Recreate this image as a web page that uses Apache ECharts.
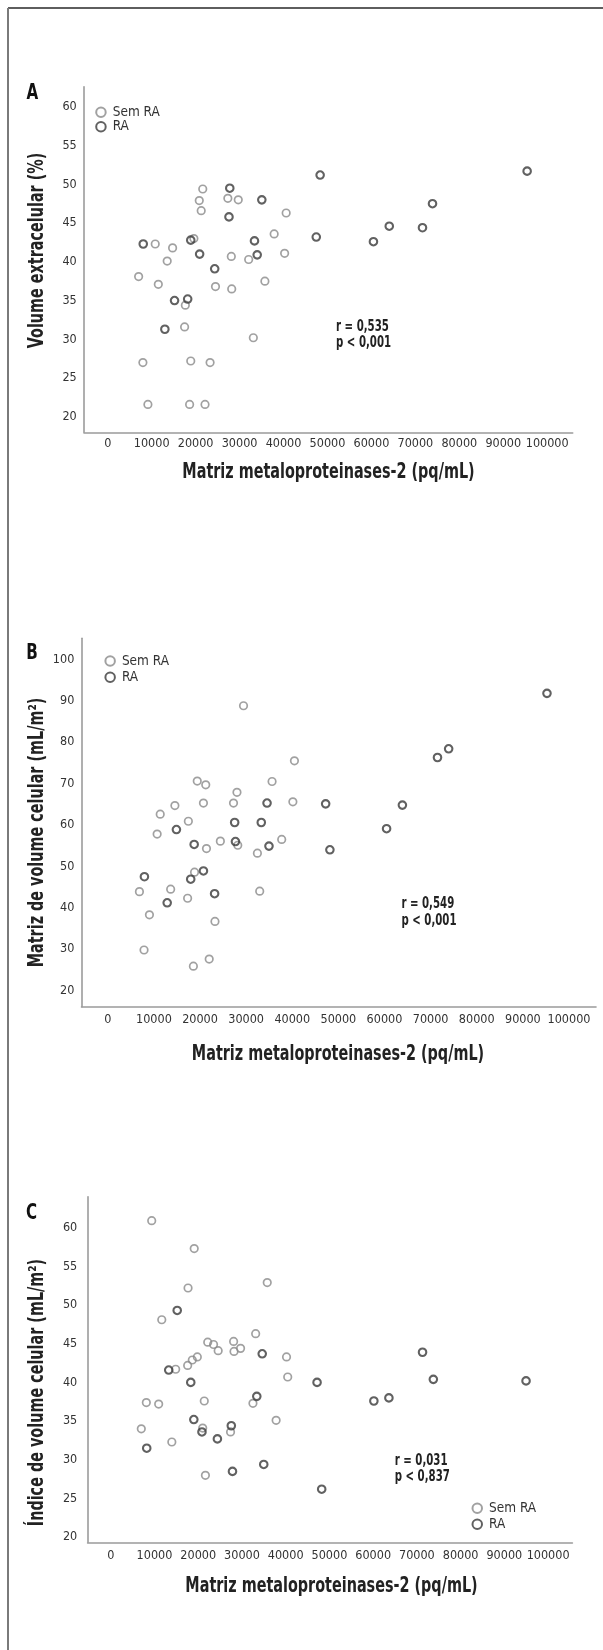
<!DOCTYPE html>
<html><head><meta charset="utf-8">
<script src="https://cdn.jsdelivr.net/npm/echarts@6/dist/echarts.min.js"></script>
<style>html,body{margin:0;padding:0;background:#fff;overflow:hidden}#c{width:603px;height:1650px}</style>
</head><body><div id="c"></div>
<script>
// ---- data ----
const xTicks = [0,10000,20000,30000,40000,50000,60000,70000,80000,90000,100000];
const yTicksA = [20,25,30,35,40,45,50,55,60];
const yTicksB = [20,30,40,50,60,70,80,90,100];
const yTicksC = [20,25,30,35,40,45,50,55,60];
const seriesNames = ['Sem RA','RA'];

// Panel A: Volume extracelular (%)
const aSemX = [7030,8000,9140,10810,11510,13530,14760,17660,17490,18890,18630,19600,20830,21620,21270,22140,23290,24520,27330,29700,28120,28210,32070,33130,35760,37870,40250,40600];
const aSemY = [38.1,27.0,21.6,42.3,37.1,40.1,41.8,34.4,31.6,27.2,21.6,43.0,47.9,49.4,46.6,21.6,27.0,36.8,48.2,48.0,40.7,36.5,40.3,30.2,37.5,43.6,41.1,46.3];
const aRaX = [8080,13000,15200,18190,18890,20910,24340,27770,27590,33390,34010,35060,47450,48330,60460,64060,71620,73900,95430];
const aRaY = [42.3,31.3,35.0,35.2,42.8,41.0,39.1,49.5,45.8,42.7,40.9,48.0,43.2,51.2,42.6,44.6,44.4,47.5,51.7];

// Panel B: Matriz de volume celular (mL/m2)
const bSemX = [6860,7860,9030,10700,11370,13630,14550,17310,17470,18560,18810,19400,21240,20740,21400,21990,23240,24410,27260,28010,28180,29430,32440,32940,35620,37710,40130,40470];
const bSemY = [43.9,29.8,38.3,57.8,62.6,44.5,64.7,42.3,60.9,25.9,48.6,70.6,69.7,65.3,54.3,27.6,36.7,56.1,65.3,67.9,55.1,88.8,53.2,44.0,70.5,56.5,65.6,75.5];
const bRaX = [7940,12880,14880,17980,18730,20740,23160,27510,27680,34530,33280,34950,47240,48160,60450,63880,71490,73910,95230];
const bRaY = [47.5,41.2,58.9,46.9,55.3,48.9,43.4,60.6,56.0,65.3,60.6,54.9,65.1,54.0,59.1,64.8,76.3,78.4,91.8];

// Panel C: Indice de volume celular (mL/m2)
const cSemX = [9360,6980,8130,10950,11660,13960,14840,17670,17580,18640,19790,19080,21020,21380,21640,22170,23500,24560,27390,28090,28180,29680,32510,33130,35780,37810,40190,40460];
const cSemY = [60.9,34.0,37.4,37.2,48.1,32.3,41.7,52.2,42.2,42.9,43.3,57.3,34.1,37.6,28.0,45.2,44.9,44.1,33.6,45.3,44.0,44.4,37.3,46.3,52.9,35.1,43.3,40.7];
const cRaX = [8220,13250,15190,18290,18990,20850,24380,27560,27830,33390,34630,34980,47170,48230,60160,63600,71290,73760,94960];
const cRaY = [31.5,41.6,49.3,40.0,35.2,33.6,32.7,34.4,28.5,38.2,43.7,29.4,40.0,26.2,37.6,38.0,43.9,40.4,40.2];

const stats = [['r = 0,535','p < 0,001'],['r = 0,549','p < 0,001'],['r = 0,031','p < 0,837']];
const xTitle = 'Matriz metaloproteinases-2 (pq/mL)';
const yTitles = ['Volume extracelular (%)','Matriz de volume celular (mL/m²)','Índice de volume celular (mL/m²)'];
const panelLetters = ['A','B','C'];

// ---- layout ----
const FONT = "'DejaVu Sans Condensed','Liberation Sans Narrow',sans-serif";
const SEM_COLOR = '#8a8a8a', RA_COLOR = '#3a3a3a';
const NARROW = 0.78;
const panels = [
  {grid:{left:84,top:86.7,width:488.7,height:345.6}, x:[-5400,105800], y:[18.0,62.6], yTicks:yTicksA,
   xMargin:4.7, yMargin:7.3, sem:[aSemX,aSemY], ra:[aRaX,aRaY],
   legend:{left:95.2,top:105.1,lh:14.4,gap:0}, stat:[336,326.7,343.3], letter:[32.3,93.3],
   ytitle:[37.5,250.5], xtitle:[328.5,473]},
  {grid:{left:81.5,top:638.3,width:514.5,height:368.4}, x:[-5700,105860], y:[16.1,105.1], yTicks:yTicksB,
   xMargin:6.3, yMargin:7.2, sem:[bSemX,bSemY], ra:[bRaX,bRaY],
   legend:{left:104.4,top:653.5,lh:15,gap:1.3}, stat:[401.4,904,920.7], letter:[32,654],
   ytitle:[37.5,832.5], xtitle:[338,1055]},
  {grid:{left:87.6,top:1196.7,width:484.8,height:345.6}, x:[-5300,105560], y:[19.34,64.0], yTicks:yTicksC,
   xMargin:7.4, yMargin:10.4, sem:[cSemX,cSemY], ra:[cRaX,cRaY],
   legend:{left:471.5,top:1500.8,lh:15,gap:1}, stat:[394.7,1460.7,1477.3], letter:[31.6,1214],
   ytitle:[37.5,1392.5], xtitle:[331.5,1586.7]}
];

const zip = (xs, ys) => xs.map((v,i)=>[v, ys[i]]);
const grid=[], xAxis=[], yAxis=[], series=[], legend=[], graphic=[];

graphic.push({type:'line', shape:{x1:8,y1:8,x2:603,y2:8}, style:{stroke:'#5e5e5e', lineWidth:2}});
graphic.push({type:'line', shape:{x1:8,y1:8,x2:8,y2:1650}, style:{stroke:'#7a7a7a', lineWidth:2}});

panels.forEach((p, i) => {
  grid.push(Object.assign({containLabel:false}, p.grid));
  xAxis.push({
    type:'value', gridIndex:i, min:p.x[0], max:p.x[1],
    axisLine:{show:true, onZero:false, lineStyle:{color:'#9b9b9b', width:1.6}},
    axisTick:{show:false}, splitLine:{show:false},
    axisLabel:{customValues:xTicks, margin:p.xMargin, fontSize:12.5, color:'#333', fontFamily:FONT,
      hideOverlap:false, showMaxLabel:true, showMinLabel:true, formatter:v=>String(v)}
  });
  yAxis.push({
    type:'value', gridIndex:i, min:p.y[0], max:p.y[1],
    axisLine:{show:true, onZero:false, lineStyle:{color:'#9b9b9b', width:1.6}},
    axisTick:{show:false}, splitLine:{show:false},
    axisLabel:{customValues:p.yTicks, margin:p.yMargin, fontSize:12.5, color:'#333', fontFamily:FONT,
      hideOverlap:false, formatter:v=>String(v)}
  });
  series.push({
    name:seriesNames[0], type:'scatter', xAxisIndex:i, yAxisIndex:i, data:zip(p.sem[0], p.sem[1]),
    symbol:'circle', symbolSize:7.5,
    itemStyle:{color:'rgba(255,255,255,0)', borderColor:SEM_COLOR, borderWidth:1.7}
  });
  series.push({
    name:seriesNames[1], type:'scatter', xAxisIndex:i, yAxisIndex:i, data:zip(p.ra[0], p.ra[1]),
    symbol:'circle', symbolSize:7.5,
    itemStyle:{color:'rgba(255,255,255,0)', borderColor:RA_COLOR, borderWidth:2.1}
  });
  legend.push({
    data:seriesNames, orient:'vertical', left:p.legend.left, top:p.legend.top, padding:0,
    itemWidth:9.5, itemHeight:9.5, itemGap:p.legend.gap, icon:'circle', selectedMode:false,
    textStyle:{fontSize:13.5, color:'#333', fontFamily:FONT, lineHeight:p.legend.lh, padding:[0,0,0,2]}
  });
  graphic.push({type:'text', x:p.letter[0], y:p.letter[1], scaleX:0.8,
    style:{text:panelLetters[i], font:"bold 21px "+FONT, fill:'#111', align:'center', verticalAlign:'middle'}});
  graphic.push({type:'text', x:p.stat[0], y:p.stat[1], scaleX:0.73,
    style:{text:stats[i][0], font:"bold 15.5px "+FONT, fill:'#222', verticalAlign:'middle', align:'left'}});
  graphic.push({type:'text', x:p.stat[0], y:p.stat[2], scaleX:0.73,
    style:{text:stats[i][1], font:"bold 15.5px "+FONT, fill:'#222', verticalAlign:'middle', align:'left'}});
  graphic.push({type:'text', x:p.ytitle[0], y:p.ytitle[1], rotation:Math.PI/2, scaleX:NARROW,
    style:{text:yTitles[i], font:"bold 20.5px "+FONT, fill:'#222', verticalAlign:'middle', align:'center'}});
  graphic.push({type:'text', x:p.xtitle[0], y:p.xtitle[1], scaleX:NARROW,
    style:{text:xTitle, font:"bold 20.5px "+FONT, fill:'#222', verticalAlign:'middle', align:'center'}});
});

const chart = echarts.init(document.getElementById('c'), null, {renderer:'canvas'});
chart.setOption({backgroundColor:'#fff', animation:false, grid, xAxis, yAxis, series, legend, graphic});
</script></body></html>
